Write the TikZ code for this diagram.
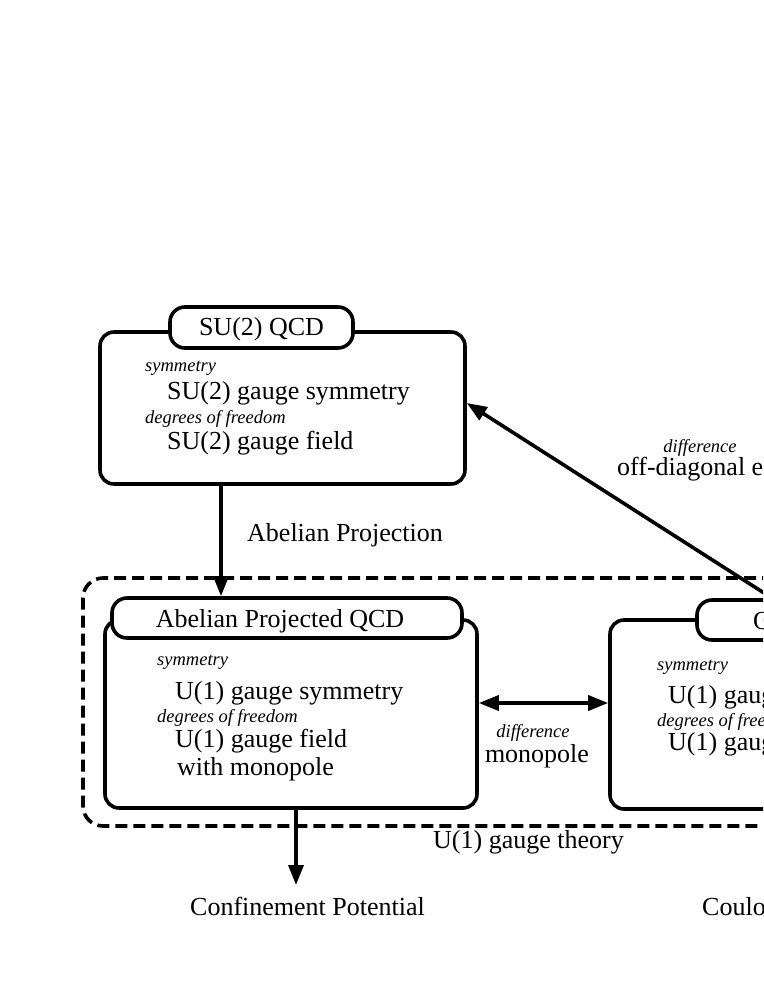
\documentclass[tikz,border=0pt]{standalone}
\usepackage{fontspec}
\setmainfont{Liberation Serif}
\usetikzlibrary{arrows.meta,calc}
\begin{document}
\begin{tikzpicture}[x=1pt,y=-1pt,
  lw/.style={line width=3.6pt},
  box/.style={draw, lw, rounded corners=14pt, rectangle, inner sep=0pt, fill=white},
  tabbox/.style={draw, lw, rounded corners=15pt, rectangle, inner sep=0pt, fill=white},
  big/.style={font=\fontsize{26}{30}\selectfont, inner sep=0pt},
  lab/.style={font=\fontsize{18.5}{22}\selectfont\itshape, inner sep=0pt},
  arr/.style={lw, -{Triangle[length=20pt,width=15pt]}},
  darr/.style={lw, {Triangle[length=20pt,width=15pt]}-{Triangle[length=20pt,width=15pt]}},
  frame/.style={draw, lw, dash pattern=on 12pt off 6pt, rounded corners=20pt, rectangle, inner sep=0pt},
]
\useasboundingbox (0,0) rectangle (763,987);
\begin{scope}
\clip (0,0) rectangle (763,987);
% U(1) gauge theory frame
\node[frame, minimum width=927pt, minimum height=248pt] (u1) at (546.5,702) {};
% SU(2) QCD
\node[box, minimum width=365pt, minimum height=152pt] (su2) at (282.5,408) {};
\node[tabbox, minimum width=183pt, minimum height=41pt] (su2tab) at (261.5,327.5) {};
\node[big, anchor=base] (su2title) at (261.5,335) {SU(2) QCD};
\node[lab, anchor=base west] (su2s) at (145,371) {symmetry};
\node[big, anchor=base west] (su2sv) at (167,399) {SU(2) gauge symmetry};
\node[lab, anchor=base west] (su2d) at (145,423) {degrees of freedom};
\node[big, anchor=base west] (su2dv) at (167,449) {SU(2) gauge field};
% Abelian Projected QCD
\node[box, minimum width=372pt, minimum height=188pt] (ab) at (291,714) {};
\node[tabbox, minimum width=350pt, minimum height=40pt] (abtab) at (287,618) {};
\node[big, anchor=base] (abtitle) at (280,627) {Abelian Projected QCD};
\node[lab, anchor=base west] (abs) at (157,665) {symmetry};
\node[big, anchor=base west] (absv) at (175,699) {U(1) gauge symmetry};
\node[lab, anchor=base west] (abd) at (157,722) {degrees of freedom};
\node[big, anchor=base west] (abdv) at (175,747) {U(1) gauge field};
\node[big, anchor=base west] (abdw) at (177,775) {with monopole};
% QED
\node[box, minimum width=370pt, minimum height=189pt] (qed) at (795,714.5) {};
\node[tabbox, minimum width=165pt, minimum height=40pt] (qedtab) at (779.5,620) {};
\node[big, anchor=base west] (qedtitle) at (753,629) {QED};
\node[lab, anchor=base west] (qeds) at (657,670) {symmetry};
\node[big, anchor=base west] (qedsv) at (668,703) {U(1) gauge symmetry};
\node[lab, anchor=base west] (qedd) at (657,726) {degrees of freedom};
\node[big, anchor=base west] (qeddv) at (668,750) {U(1) gauge field};
% labels
\node[big, anchor=base west] (abproj) at (247,541) {Abelian Projection};
\node[big, anchor=base west] (u1lab) at (433,848) {U(1) gauge theory};
\node[lab, anchor=base] (diff1) at (533,737) {difference};
\node[big, anchor=base] (mono) at (537,762) {monopole};
\node[lab, anchor=base] (diff2) at (700,452) {difference};
\node[big, anchor=base west] (offd) at (617,475) {off-diagonal elements};
\node[big, anchor=base west] (conf) at (190,915) {Confinement Potential};
\node[big, anchor=base west] (coul) at (702,915) {Coulomb Potential};
% connectors
\coordinate (qstart) at (775,600);
\coordinate (confend) at (296,885);
\draw[arr] ([xshift=-61.5pt]su2.south) -- ([xshift=-61.5pt]su2.south |- abtab.north);
\draw[arr] (qstart) -- ([yshift=5pt]su2.east);
\draw[darr] ([yshift=11pt]ab.east) -- ([yshift=11pt]ab.east -| qed.west);
\draw[arr] ([xshift=5pt]ab.south) -- (confend);
\end{scope}
\end{tikzpicture}
\end{document}
